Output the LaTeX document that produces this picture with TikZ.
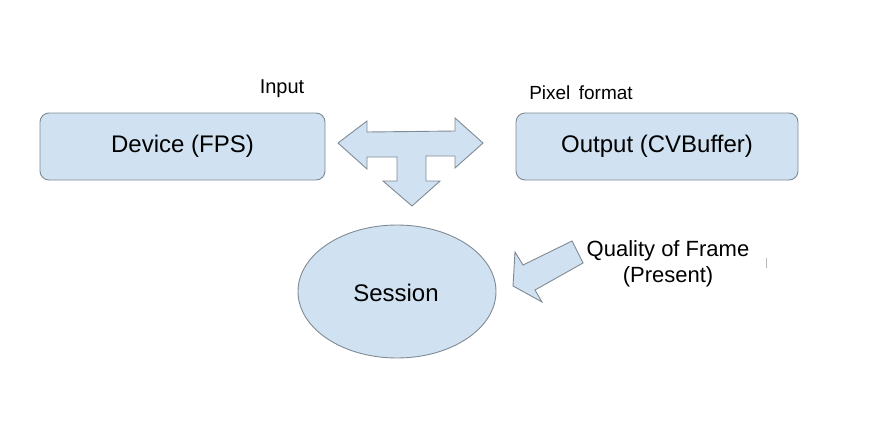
\documentclass[tikz,border=0pt]{standalone}
\usepackage{fontspec}
\setmainfont{Liberation Sans}
\definecolor{boxfill}{RGB}{208,226,241}
\definecolor{boxline}{RGB}{128,138,148}
\tikzset{
	blk/.style={draw=boxline,fill=boxfill,line width=0.9pt},
	big/.style={font=\fontsize{24}{28}\selectfont},
	small/.style={font=\fontsize{19}{23}\selectfont},
}
\begin{document}
\begin{tikzpicture}[x=1pt,y=-1pt]
	\useasboundingbox (0,0) rectangle (886,437);
	% boxes
	\draw[blk,rounded corners=9](40,113)rectangle(325,180);
	\node[big](dev) at (182.5,146.5){Device (FPS)};
	\draw[blk,rounded corners=9](516,113)rectangle(798,180);
	\node[big](out) at (657,146.5){Output (CVBuffer)};
	\draw[blk](397,291.5)ellipse(99 and 66.5);
	\node[big](ses) at (396,293){Session};
	% labels
	\node[font=\fontsize{20}{24}\selectfont](inp) at (282,89){Input};
	\node[small](pix) at (581,93){Pixel\ \,format};
	\node[font=\fontsize{22}{26}\selectfont,align=center](qual) at (668,264){Quality of Frame\\(Present)};
	% three way arrow
	\draw[blk,line join=miter](338,143)--(367,121)--(367,132)--(455,131)--(455,118)--(483,143)
		--(455,168)--(455,156)--(426,156)--(426,181)--(440,181)--(412,206)--(383,181)
		--(397,181)--(397,157)--(367,157)--(367,169)--cycle;
	% arrow into session
	\draw[blk](513,286)--(515,252)--(523,265)--(572,241)--(583,263)--(535,290)--(542,302)--cycle;
	\draw[boxline!60,line width=1pt](766,258)--(766,268);
\end{tikzpicture}
\end{document}
